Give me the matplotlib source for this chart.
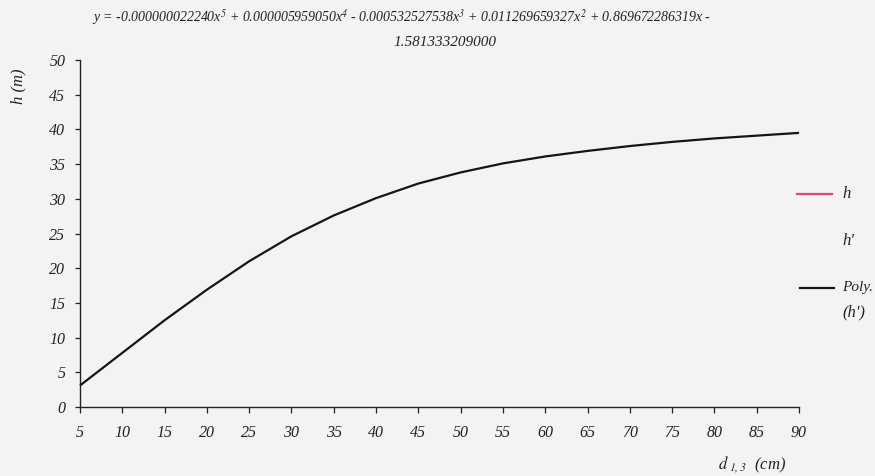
import numpy as np
import matplotlib.pyplot as plt
from matplotlib.lines import Line2D

# diameter classes (cm) and the height (m)
d13 = [5, 10, 15, 20, 25, 30, 35, 40, 45, 50, 55, 60, 65, 70, 75, 80, 85, 90]
h_poly = [3.1, 7.8, 12.5, 16.9, 21.0, 24.6, 27.6, 30.1, 32.2, 33.8,
          35.1, 36.1, 36.9, 37.6, 38.2, 38.7, 39.1, 39.5]

eq_line1 = ("y = -0.000000022240x$^{5}$ + 0.000005959050x$^{4}$ - 0.000532527538x$^{3}$"
            " + 0.011269659327x$^{2}$ + 0.869672286319x -")
eq_line2 = "1.581333209000"

plt.rcParams['font.family'] = ['Liberation Serif', 'DejaVu Serif']
plt.rcParams['font.style'] = 'italic'
plt.rcParams['mathtext.fontset'] = 'stix'
plt.rcParams['mathtext.it'] = 'STIXGeneral:italic'

bg = '#f3f3f1'
ink = '#222222'
fig = plt.figure(figsize=(8.75, 4.76), dpi=100, facecolor=bg)
ax = fig.add_axes([80 / 875, 1 - 407 / 476, (799 - 80) / 875, (407 - 60) / 476])
ax.set_facecolor(bg)

ax.plot(d13, h_poly, color='#151515', lw=1.6, solid_capstyle='butt', clip_on=False)

ax.set_xlim(5, 90)
ax.set_ylim(0, 50)
ax.set_xticks(d13)
ax.set_yticks(np.arange(0, 51, 5))
for s in ['top', 'right']:
    ax.spines[s].set_visible(False)
for s in ['left', 'bottom']:
    ax.spines[s].set_color(ink)
    ax.spines[s].set_linewidth(1.0)
ax.tick_params(axis='x', direction='out', length=4, width=0.9, pad=9, labelsize=11.5,
               colors=ink)
ax.tick_params(axis='y', direction='out', length=3.5, width=0.9, pad=7, labelsize=11.5,
               colors=ink)
for lab in ax.get_xticklabels() + ax.get_yticklabels():
    lab.set_style('italic')

fig.text(18 / 875, 1 - 86 / 476, 'h (m)', rotation=90, ha='center', va='center',
         fontsize=12, style='italic', color=ink)
fig.text(752 / 875, 1 - 465 / 476, r'$d_{\ 1,3}$  (cm)', ha='center', va='center',
         fontsize=12, style='italic', color=ink)

fig.text(402 / 875, 1 - 18 / 476, eq_line1, ha='center', va='center',
         fontsize=10, style='italic', color=ink)
fig.text(445 / 875, 1 - 43 / 476, eq_line2, ha='center', va='center',
         fontsize=11, style='italic', color=ink)

# legend on the right, partly cut by the page edge
fig.add_artist(Line2D([797 / 875, 832 / 875], [1 - 194 / 476] * 2,
                      color='#e0457b', lw=1.6, transform=fig.transFigure))
fig.text(842 / 875, 1 - 194 / 476, 'h', ha='left', va='center', fontsize=12,
         style='italic', color=ink)
fig.text(842 / 875, 1 - 241 / 476, "h'", ha='left', va='center', fontsize=12,
         style='italic', color=ink)
fig.add_artist(Line2D([800 / 875, 834 / 875], [1 - 288 / 476] * 2,
                      color='#151515', lw=1.6, transform=fig.transFigure))
fig.text(842 / 875, 1 - 288 / 476, 'Poly.', ha='left', va='center', fontsize=11,
         style='italic', color=ink)
fig.text(842 / 875, 1 - 312 / 476, "(h')", ha='left', va='center', fontsize=12,
         style='italic', color=ink)

fig.savefig('out.png', dpi=100, facecolor=bg)
